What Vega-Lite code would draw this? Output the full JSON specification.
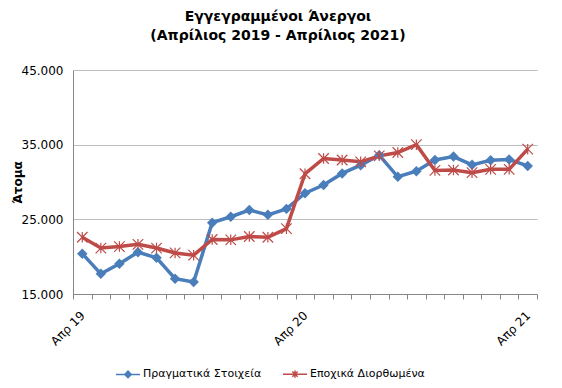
{
  "$schema": "https://vega.github.io/schema/vega-lite/v6.json",
  "width": 464,
  "height": 224,
  "autosize": {"type": "none"},
  "padding": {"left": 73, "top": 70, "right": 25, "bottom": 94},
  "background": "white",
  "config": {
    "font": "DejaVu Sans",
    "view": {"stroke": null}
  },
  "title": {
    "text": ["Εγγεγραμμένοι Άνεργοι", "(Απρίλιος 2019 - Απρίλιος 2021)"],
    "fontSize": 14,
    "fontWeight": "bold",
    "color": "#000000",
    "anchor": "middle",
    "dx": -27,
    "offset": 21,
    "lineHeight": 19
  },
  "resolve": {"axis": {"x": "independent"}},
  "data": {
    "values": [
      {"i": 0, "m": "Απρ 19", "s": "Πραγματικά Στοιχεία", "v": 20400},
      {"i": 1, "m": "Μάι 19", "s": "Πραγματικά Στοιχεία", "v": 17700},
      {"i": 2, "m": "Ιούν 19", "s": "Πραγματικά Στοιχεία", "v": 19050},
      {"i": 3, "m": "Ιούλ 19", "s": "Πραγματικά Στοιχεία", "v": 20600},
      {"i": 4, "m": "Αύγ 19", "s": "Πραγματικά Στοιχεία", "v": 19850},
      {"i": 5, "m": "Σεπ 19", "s": "Πραγματικά Στοιχεία", "v": 17050},
      {"i": 6, "m": "Οκτ 19", "s": "Πραγματικά Στοιχεία", "v": 16600},
      {"i": 7, "m": "Νοέ 19", "s": "Πραγματικά Στοιχεία", "v": 24550},
      {"i": 8, "m": "Δεκ 19", "s": "Πραγματικά Στοιχεία", "v": 25350},
      {"i": 9, "m": "Ιαν 20", "s": "Πραγματικά Στοιχεία", "v": 26250},
      {"i": 10, "m": "Φεβ 20", "s": "Πραγματικά Στοιχεία", "v": 25600},
      {"i": 11, "m": "Μάρ 20", "s": "Πραγματικά Στοιχεία", "v": 26400},
      {"i": 12, "m": "Απρ 20", "s": "Πραγματικά Στοιχεία", "v": 28500},
      {"i": 13, "m": "Μάι 20", "s": "Πραγματικά Στοιχεία", "v": 29600},
      {"i": 14, "m": "Ιούν 20", "s": "Πραγματικά Στοιχεία", "v": 31150},
      {"i": 15, "m": "Ιούλ 20", "s": "Πραγματικά Στοιχεία", "v": 32250},
      {"i": 16, "m": "Αύγ 20", "s": "Πραγματικά Στοιχεία", "v": 33600},
      {"i": 17, "m": "Σεπ 20", "s": "Πραγματικά Στοιχεία", "v": 30700},
      {"i": 18, "m": "Οκτ 20", "s": "Πραγματικά Στοιχεία", "v": 31450},
      {"i": 19, "m": "Νοέ 20", "s": "Πραγματικά Στοιχεία", "v": 32950},
      {"i": 20, "m": "Δεκ 20", "s": "Πραγματικά Στοιχεία", "v": 33400},
      {"i": 21, "m": "Ιαν 21", "s": "Πραγματικά Στοιχεία", "v": 32300},
      {"i": 22, "m": "Φεβ 21", "s": "Πραγματικά Στοιχεία", "v": 32900},
      {"i": 23, "m": "Μάρ 21", "s": "Πραγματικά Στοιχεία", "v": 33000},
      {"i": 24, "m": "Απρ 21", "s": "Πραγματικά Στοιχεία", "v": 32150},
      {"i": 0, "m": "Απρ 19", "s": "Εποχικά Διορθωμένα", "v": 22600},
      {"i": 1, "m": "Μάι 19", "s": "Εποχικά Διορθωμένα", "v": 21150},
      {"i": 2, "m": "Ιούν 19", "s": "Εποχικά Διορθωμένα", "v": 21350},
      {"i": 3, "m": "Ιούλ 19", "s": "Εποχικά Διορθωμένα", "v": 21650},
      {"i": 4, "m": "Αύγ 19", "s": "Εποχικά Διορθωμένα", "v": 21150},
      {"i": 5, "m": "Σεπ 19", "s": "Εποχικά Διορθωμένα", "v": 20500},
      {"i": 6, "m": "Οκτ 19", "s": "Εποχικά Διορθωμένα", "v": 20200},
      {"i": 7, "m": "Νοέ 19", "s": "Εποχικά Διορθωμένα", "v": 22300},
      {"i": 8, "m": "Δεκ 19", "s": "Εποχικά Διορθωμένα", "v": 22250},
      {"i": 9, "m": "Ιαν 20", "s": "Εποχικά Διορθωμένα", "v": 22700},
      {"i": 10, "m": "Φεβ 20", "s": "Εποχικά Διορθωμένα", "v": 22600},
      {"i": 11, "m": "Μάρ 20", "s": "Εποχικά Διορθωμένα", "v": 23750},
      {"i": 12, "m": "Απρ 20", "s": "Εποχικά Διορθωμένα", "v": 31100},
      {"i": 13, "m": "Μάι 20", "s": "Εποχικά Διορθωμένα", "v": 33150},
      {"i": 14, "m": "Ιούν 20", "s": "Εποχικά Διορθωμένα", "v": 32950},
      {"i": 15, "m": "Ιούλ 20", "s": "Εποχικά Διορθωμένα", "v": 32700},
      {"i": 16, "m": "Αύγ 20", "s": "Εποχικά Διορθωμένα", "v": 33500},
      {"i": 17, "m": "Σεπ 20", "s": "Εποχικά Διορθωμένα", "v": 33950},
      {"i": 18, "m": "Οκτ 20", "s": "Εποχικά Διορθωμένα", "v": 35000},
      {"i": 19, "m": "Νοέ 20", "s": "Εποχικά Διορθωμένα", "v": 31550},
      {"i": 20, "m": "Δεκ 20", "s": "Εποχικά Διορθωμένα", "v": 31600},
      {"i": 21, "m": "Ιαν 21", "s": "Εποχικά Διορθωμένα", "v": 31250},
      {"i": 22, "m": "Φεβ 21", "s": "Εποχικά Διορθωμένα", "v": 31700},
      {"i": 23, "m": "Μάρ 21", "s": "Εποχικά Διορθωμένα", "v": 31700},
      {"i": 24, "m": "Απρ 21", "s": "Εποχικά Διορθωμένα", "v": 34400}
    ]
  },
  "encoding": {
    "y": {
      "field": "v",
      "type": "quantitative",
      "scale": {"domain": [15000, 45000], "nice": false, "zero": false},
      "axis": {
        "title": "Άτομα",
        "titleFontSize": 12,
        "titleFontWeight": "bold",
        "titleColor": "#000000",
        "titleX": -56,
        "titleY": 112,
        "titleAngle": -90,
        "titleAlign": "center",
        "titleBaseline": "middle",
        "values": [15000, 25000, 35000, 45000],
        "labelExpr": "replace(format(datum.value, ','), ',', '.')",
        "labelFontSize": 12,
        "labelColor": "#000000",
        "labelPadding": 10,
        "ticks": false,
        "grid": true,
        "gridColor": "#BDBDBD",
        "gridWidth": 1,
        "domainColor": "#868686",
        "domainWidth": 1
      }
    }
  },
  "layer": [
    {
      "mark": {"type": "rule", "opacity": 0},
      "encoding": {
        "x": {
          "field": "i",
          "type": "quantitative",
          "scale": {"domain": [-0.5, 24.5], "nice": false, "zero": false},
          "axis": {
            "title": null,
            "orient": "bottom",
            "values": [-0.5, 0.5, 1.5, 2.5, 3.5, 4.5, 5.5, 6.5, 7.5, 8.5, 9.5, 10.5, 11.5, 12.5, 13.5, 14.5, 15.5, 16.5, 17.5, 18.5, 19.5, 20.5, 21.5, 22.5, 23.5, 24.5],
            "labels": false,
            "ticks": true,
            "tickSize": 5,
            "tickColor": "#868686",
            "domain": true,
            "domainColor": "#868686",
            "grid": false
          }
        }
      }
    },
    {
      "mark": {"type": "line", "strokeWidth": 3.5},
      "encoding": {
        "x": {
          "field": "i",
          "type": "quantitative",
          "scale": {"domain": [-0.5, 24.5], "nice": false, "zero": false},
          "axis": {
            "title": null,
            "orient": "bottom",
            "values": [0, 12, 24],
            "labelExpr": "datum.value == 0 ? 'Απρ 19' : datum.value == 12 ? 'Απρ 20' : 'Απρ 21'",
            "labelAngle": -45,
            "labelAlign": "right",
            "labelBaseline": "middle",
            "labelPadding": 19,
            "labelFontSize": 12,
            "labelColor": "#000000",
            "ticks": false,
            "grid": false,
            "domain": false
          }
        },
        "color": {
          "field": "s",
          "type": "nominal",
          "scale": {"domain": ["Πραγματικά Στοιχεία", "Εποχικά Διορθωμένα"], "range": ["#4A7EBB", "#BE4B48"]},
          "legend": {
            "title": null,
            "orient": "none",
            "direction": "horizontal",
            "legendX": 42,
            "legendY": 291,
            "symbolSize": 576,
            "symbolStrokeWidth": 1.5,
            "labelFontSize": 11,
            "labelColor": "#000000",
            "labelOffset": 2,
            "columnPadding": 18,
            "encode": {
              "symbols": {
                "update": {
                  "shape": {"signal": "datum.value === 'Πραγματικά Στοιχεία' ? 'M-1,0L1,0M0,-0.27L0.27,0L0,0.27L-0.27,0Z' : 'M-1,0L1,0M-0.22,-0.22L0.22,0.22M-0.22,0.22L0.22,-0.22M0,-0.3L0,0.3'"},
                  "fill": {"signal": "datum.value === 'Πραγματικά Στοιχεία' ? '#4A7EBB' : 'transparent'"}
                }
              }
            }
          }
        }
      }
    },
    {
      "transform": [{"filter": "datum.s === 'Πραγματικά Στοιχεία'"}],
      "mark": {"type": "point", "shape": "diamond", "filled": true, "size": 110, "color": "#4A7EBB", "opacity": 1},
      "encoding": {
        "x": {"field": "i", "type": "quantitative", "scale": {"domain": [-0.5, 24.5], "nice": false, "zero": false}, "axis": null}
      }
    },
    {
      "transform": [{"filter": "datum.s === 'Εποχικά Διορθωμένα'"}],
      "mark": {"type": "point", "shape": "M-1,-1L1,1M-1,1L1,-1M0,-1L0,1", "filled": false, "size": 110, "stroke": "#BE4B48", "strokeWidth": 1.2, "opacity": 1},
      "encoding": {
        "x": {"field": "i", "type": "quantitative", "scale": {"domain": [-0.5, 24.5], "nice": false, "zero": false}, "axis": null}
      }
    }
  ]
}
